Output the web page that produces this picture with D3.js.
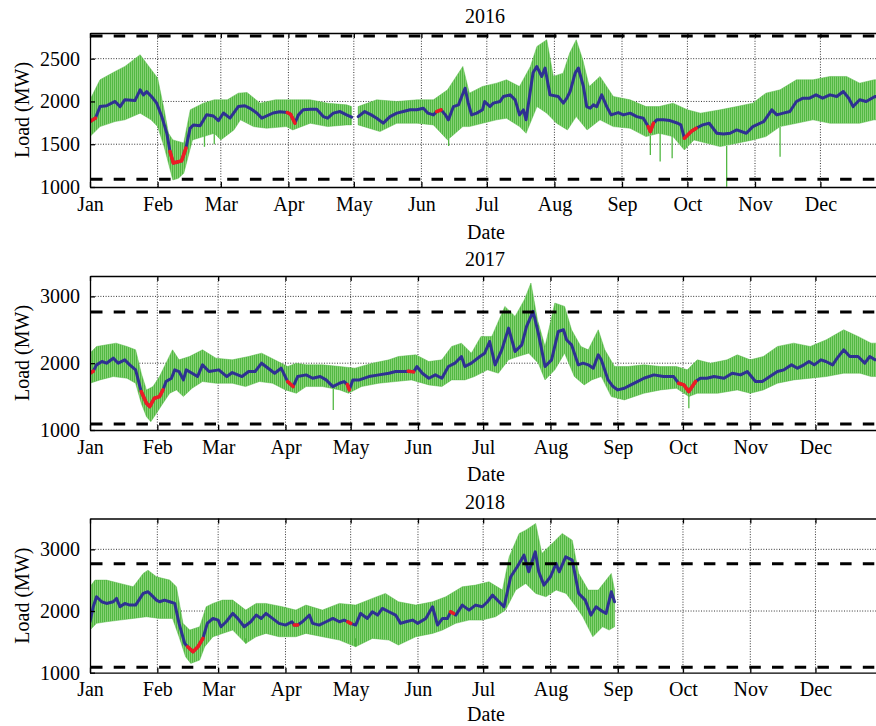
<!DOCTYPE html>
<html>
<head>
<meta charset="utf-8">
<script src="https://cdn.jsdelivr.net/npm/d3@7"></script>
<style>
  html, body { margin: 0; padding: 0; background: #fff; }
  svg { display: block; font-family: "Liberation Serif", "DejaVu Serif", serif; }
</style>
</head>
<body>
<svg id="chart" width="876" height="726"></svg>
<script>
// ---- Data: day-of-year (0 = Jan 1) and load in MW ----
const years = [2016, 2017, 2018];
const thresholds = [1090, 2765];
const monthTickLabel = d3.utcFormat("%b");

// Daily mean load [day, MW]; null marks missing data
const mean2016 = [[0,1765],[2.5,1805],[4.6,1940],[7.6,1950],[11.5,2000],[13.8,1940],[16,2020],[20.6,2010],[23,2135],[24.5,2075],[26,2115],[28.3,2055],[30.6,1980],[32.9,1825],[35.2,1630],[36.7,1415],[38.2,1280],[40.5,1295],[42,1305],[44,1455],[45.9,1685],[47.4,1725],[50.5,1715],[53.5,1845],[56.6,1830],[58.9,1775],[61.2,1865],[64.2,1805],[68,1940],[71,1950],[73.4,1920],[76.5,1865],[78.8,1805],[84,1865],[87,1880],[90.5,1870],[92,1850],[94,1746],[95.6,1843],[97.8,1902],[101,1910],[104,1910],[107,1823],[109,1804],[111.6,1863],[114.7,1882],[117.7,1843],[120,1816],[121.5,null],[123,1823],[126,1882],[129,1843],[131.5,1804],[134.5,1746],[137.6,1823],[140.7,1863],[143.7,1882],[146.8,1902],[149.9,1902],[152.9,1921],[155,1863],[157.5,1843],[159,1882],[161,1902],[163,1843],[164.4,1785],[166.7,1940],[169,1960],[170.5,2058],[172,2155],[173.5,1980],[175,1843],[177.4,1863],[180,1902],[181,1999],[183.5,1940],[185,1980],[188,1999],[189.6,2058],[192.7,2077],[195,2019],[197,1843],[198.8,1902],[200,1785],[203.2,2335],[204.9,2409],[207.2,2292],[208.7,2390],[211,2077],[214.8,2057],[217.1,1980],[218.7,2038],[220.2,2116],[222.5,2331],[224,2390],[226.3,2175],[227.8,1940],[229.4,1921],[230.9,1960],[232.4,1940],[234.7,2077],[237,1940],[239,1843],[242.3,1870],[244.6,1843],[247.7,1863],[250.8,1823],[253.8,1804],[256,1706],[257,1648],[258.4,1745],[260,1785],[263,1785],[266,1776],[269.6,1745],[271,1726],[272.6,1570],[275.7,1648],[278,1687],[281,1726],[284,1745],[287.5,1628],[290.5,1620],[293.6,1628],[296.6,1667],[301,1628],[304,1706],[309,1765],[312.7,1902],[315,1843],[318,1863],[321,1882],[324,1999],[327,2038],[330,2038],[333,2077],[336,2038],[339.4,2077],[342.5,2058],[345.5,2116],[348,2038],[350,1940],[353,2019],[356,1999],[360,2058],[365.5,2040]];
const mean2017 = [[0,1850],[1.5,1880],[3,1975],[5.5,2025],[7.6,2000],[10.7,2075],[13,2000],[16,2050],[18.3,1975],[21,1900],[23.6,1575],[26,1400],[27.5,1350],[29.6,1475],[32,1500],[33.6,1600],[35,1725],[37.5,1775],[39,1900],[41,1875],[43,1750],[44.3,1900],[47,1850],[49.5,1800],[51.8,1975],[54.8,1875],[59.3,1900],[63,1800],[65.5,1860],[70,1800],[73,1875],[76,1875],[79,2000],[82,1925],[85,1850],[88,1925],[91,1725],[93.5,1650],[95.6,1800],[99.5,1825],[102.5,1775],[106,1800],[108.7,1750],[111.8,1650],[114.8,1700],[117,1725],[118.5,1680],[119.4,1600],[121,1750],[124,1750],[128.4,1800],[133,1825],[137.6,1850],[140.7,1875],[145,1875],[146.5,1880],[149,1870],[150.5,1950],[153,1850],[156,1775],[159,1825],[162,1775],[165,1950],[168,2000],[171,2100],[172.6,1950],[175.6,2000],[179.5,2100],[181.7,2150],[184,2325],[186.5,1975],[189.6,2200],[192.7,2525],[195.7,2175],[198.8,2275],[201,2550],[204,2775],[206.4,2450],[209.5,1950],[212.5,2050],[215.6,2475],[218,2500],[219.4,2350],[221.7,2275],[224.8,1975],[227,2000],[229.4,1975],[231.7,1925],[234,2125],[235.4,2050],[238.5,1750],[240.8,1650],[243,1600],[246,1625],[249,1675],[252,1725],[255,1775],[259.6,1825],[264,1800],[268.7,1800],[271,1700],[273.4,1675],[275.7,1575],[278.8,1725],[281,1775],[284,1775],[287.3,1800],[291.9,1775],[295.7,1850],[299.5,1825],[302.6,1875],[306.4,1725],[309.5,1725],[313,1800],[316.5,1875],[319.5,1900],[323,1975],[325.7,1925],[328.7,1975],[331,2025],[333.4,1975],[336.5,2050],[338.8,2025],[341.9,1975],[344,2075],[347,2200],[349.8,2100],[353.6,2100],[356.7,2000],[359,2100],[361.4,2050],[365,2060]];
const mean2018 = [[0,1826],[1.5,2069],[3,2231],[5.4,2150],[7.6,2123],[10.7,2150],[12.2,2204],[13.8,2069],[16,2123],[18.3,2096],[21,2096],[24.5,2285],[26.7,2312],[28.3,2258],[30.6,2177],[32,2150],[34.3,2177],[36.7,2150],[39,2123],[41,1800],[43.6,1475],[45,1421],[47.4,1340],[49.7,1421],[52,1556],[54,1800],[56.6,1880],[59,1853],[60.3,1745],[62.7,1826],[65.7,1961],[68,1880],[71,1745],[74,1826],[76.5,1934],[78.8,1880],[81,1961],[84,1880],[87,1800],[90,1772],[93,1826],[94,1772],[95.6,1772],[97.8,1826],[101,1934],[102.5,1800],[105.5,1772],[108.7,1826],[111.8,1880],[114.8,1826],[117,1853],[118.7,1826],[120,1800],[122.3,1772],[124.6,1961],[127.7,1880],[130,1988],[132.4,1934],[134.6,2042],[137.6,1988],[140.7,1934],[143,1800],[145.4,1826],[148.5,1853],[150.8,1800],[154.6,1880],[157.7,2069],[160,1772],[162.3,1880],[164.6,1880],[166,1988],[167.4,1960],[168.4,1934],[171.4,2096],[174.5,2015],[177.5,2096],[180.6,2069],[183,2150],[185.3,2258],[188.3,2150],[190.6,2069],[193.7,2555],[196.7,2717],[199.8,2906],[202,2636],[205,2960],[206.6,2636],[209,2420],[212,2555],[214.6,2771],[216,2636],[219,2879],[222,2825],[225,2285],[228,2177],[230.6,1934],[233,2069],[235,2015],[237.6,1961],[240,2312],[241.5,2150]];

// Upper and lower envelope of the hourly load [day, MW]
const upper2016 = [[0,2019],[4.6,2253],[11.5,2350],[16,2409],[23,2546],[27,2409],[31,2273],[34,1902],[36,1628],[38,1550],[43,1515],[46,1902],[52,1980],[57,2019],[63,2019],[68,2097],[72,2105],[78,1980],[85,2019],[93,2019],[101,2019],[109,1980],[117.7,1960],[120,1940],[121.5,null],[123,1940],[131.5,2019],[140.7,1999],[150,2019],[157.5,2019],[164,2136],[171,2409],[174,2097],[180,2175],[186.5,2214],[191,2253],[197,2175],[202,2409],[205,2643],[209.5,2721],[212.5,2292],[217,2331],[220,2565],[223,2721],[226,2487],[229,2175],[233.9,2292],[240,2058],[247.7,2019],[255,1940],[261,1940],[267.4,1980],[274,1902],[280,1863],[289,1902],[296.6,1940],[304,1980],[310,2097],[316.5,2136],[324,2253],[331.6,2253],[339.4,2292],[347,2292],[353,2214],[359.6,2253],[366,2250]];
const lower2016 = [[0,1589],[4.6,1706],[11.5,1765],[16,1785],[23,1863],[28,1785],[31,1706],[34,1472],[36,1277],[38,1082],[40.5,1101],[43,1160],[47,1550],[52,1589],[57,1628],[60,1550],[66,1667],[69,1785],[75,1706],[81,1687],[90,1706],[93,1667],[101,1745],[109,1706],[117.7,1726],[120,1726],[121.5,null],[123,1726],[133,1648],[140.7,1745],[150,1745],[157.5,1726],[164,1550],[171,1706],[174,1706],[180,1745],[186.5,1785],[191,1804],[197,1706],[200,1628],[205,1940],[209.5,1863],[214,1745],[219,1667],[223,1823],[228,1667],[233.9,1785],[240,1706],[247.7,1687],[255,1589],[261,1628],[267.4,1589],[272.6,1433],[277,1550],[283,1511],[289,1472],[296.6,1511],[304,1550],[310,1589],[316.5,1706],[324,1745],[331.6,1785],[339.4,1745],[347,1745],[353,1745],[359.6,1785],[366,1780]];
const upper2017 = [[0,2150],[3,2250],[7.6,2275],[12,2300],[17,2250],[21,2200],[23.6,1850],[26,1600],[29,1650],[32,1800],[35,2000],[38,2200],[41,2050],[45.8,2100],[51.8,2200],[58,2075],[65.5,2050],[73,2100],[79,2150],[85,2050],[91,1950],[95,2000],[99.5,1975],[107,1975],[115,1950],[122,1925],[130,2000],[137.6,2050],[142,2100],[150,2125],[156,2025],[162,2050],[166.5,2250],[171,2300],[175.6,2150],[180,2400],[185,2400],[191,2850],[195.7,2700],[200,2950],[203,3200],[206,2650],[209.5,2250],[214,2900],[218.5,2850],[221.7,2500],[226,2250],[229.4,2200],[234,2500],[237,2200],[241.5,1950],[247.7,1950],[255,1975],[262.7,1950],[270,1950],[275,1900],[279.6,2050],[285.7,2000],[293.3,2050],[298,2125],[304,2050],[310,2100],[316.5,2250],[324,2300],[331.6,2250],[339,2350],[347,2500],[353.6,2400],[359.6,2300],[365,2300]];
const lower2017 = [[0,1700],[4.6,1750],[10.7,1800],[17,1775],[21,1700],[23.6,1400],[26,1200],[28,1125],[30.6,1250],[33.6,1400],[36.7,1550],[39.8,1600],[43,1500],[47,1625],[51.8,1725],[58,1700],[65.5,1700],[71.6,1650],[78,1725],[84,1700],[90,1600],[95,1550],[99.5,1650],[107,1650],[115,1600],[119,1550],[125,1650],[133,1700],[140.7,1725],[148,1750],[156,1675],[162,1650],[166.5,1750],[172.6,1750],[177,1800],[183,1900],[188,1850],[192.7,2050],[197,2100],[202,2150],[206.4,2000],[209.5,1750],[214,1900],[218.5,2150],[223,1800],[227.5,1675],[231,1750],[235.4,1800],[240,1500],[246,1450],[255,1550],[262.7,1600],[270,1625],[275.7,1500],[279.6,1550],[289,1550],[298,1600],[304,1550],[310,1600],[316.5,1700],[324,1750],[331.6,1775],[339,1800],[347,1850],[354.5,1850],[359.6,1800],[365,1800]];
const upper2018 = [[0,2393],[2.3,2501],[7.6,2501],[13.8,2447],[19.9,2393],[24.5,2609],[26.7,2663],[30.6,2555],[36.7,2501],[39.8,2393],[42.8,1800],[45.9,1691],[50.5,1745],[53.5,2069],[56.6,2123],[61,2177],[65.7,2177],[71.7,2015],[76.5,2123],[81,2123],[88.6,2069],[94.8,2015],[99.4,2096],[107,2015],[114.8,2123],[122.3,2096],[130,2204],[136,2285],[142,2150],[150,2096],[157.7,2150],[163.8,2231],[171.4,2393],[177.5,2420],[183.7,2474],[189.9,2339],[193,2879],[197.6,3257],[200.6,3311],[205.2,3419],[208,2933],[212.8,3095],[217.4,3257],[222,3149],[225,2609],[229.4,2339],[234,2339],[240,2609],[241.5,2339]];
const lower2018 = [[0,1691],[3,1800],[7.6,1826],[13.8,1853],[19.9,1880],[26,1907],[32,1880],[38,1880],[41,1583],[44,1259],[46.4,1151],[50.5,1205],[52.8,1421],[56.6,1583],[61,1637],[65.7,1691],[71.7,1475],[76.5,1583],[81,1637],[87,1583],[94.8,1583],[99.4,1637],[107,1583],[114.8,1529],[122.3,1421],[130,1556],[137.6,1529],[142,1448],[150,1583],[157.7,1637],[162.3,1691],[168.4,1800],[174.5,1853],[180.6,1853],[186.7,1907],[191.3,2015],[196,2339],[200.6,2447],[205.2,2285],[209.9,2231],[214.6,2339],[219.2,2285],[223.8,2069],[226.9,1907],[231.5,1583],[236,1745],[239,1691],[241.5,1745]];

// Isolated hourly dips below the band [day, low MW, high MW]
const spikes2016 = [[52.5,1470,1600],[57,1500,1640],[164.5,1480,1560],[257,1375,1600],[261.5,1297,1630],[267,1336,1600],[292,1004,1480],[316.5,1355,1700]];
const spikes2017 = [[112,1300,1620],[275.7,1325,1520]];
const spikes2018 = [[122.3,1421,1560],[71.7,1475,1560]];

// Holiday periods highlighted on the mean curve [from day, to day]
const red2016 = [[0,2.5],[36.5,44],[90.5,94.5],[159,161.5],[256,258.5],[272.5,278]];
const red2017 = [[0,1.5],[23.5,33.7],[90.5,94],[118.4,120],[146.4,149.1],[270.9,278.9]];
const red2018 = [[44.9,52.1],[93.5,95.7],[118.5,120.1],[165.9,167.5]];

// y-axis ticks per year
const yTicks2016 = [1000, 1500, 2000, 2500];
const yTicks2017 = [1000, 2000, 3000];
const yTicks2018 = [1000, 2000, 3000];

// ---- Layout ----
const panels = [
  { year: 2016, top: 33,    bottom: 187,   xr: [90, 888],   yMax: 2800, ticks: yTicks2016, dateGap: 52,
    mean: mean2016, upper: upper2016, lower: lower2016, spikes: spikes2016, red: red2016 },
  { year: 2017, top: 276,   bottom: 430,   xr: [90, 882.8], yMax: 3305, ticks: yTicks2017, dateGap: 51,
    mean: mean2017, upper: upper2017, lower: lower2017, spikes: spikes2017, red: red2017 },
  { year: 2018, top: 518.5, bottom: 672.7, xr: [90, 882.8], yMax: 3500, ticks: yTicks2018, dateGap: 48,
    mean: mean2018, upper: upper2018, lower: lower2018, spikes: spikes2018, red: red2018 }
];

const FONT = 20;
const GREEN_DARK = "#52b843", GREEN_LIGHT = "#86d174";
const BLUE = "#2e3192", RED = "#ec1c24";

const svg = d3.select("#chart");
const defs = svg.append("defs");

// vertical stripe texture of the hourly series
const pat = defs.append("pattern").attr("id", "hourly")
  .attr("patternUnits", "userSpaceOnUse").attr("width", 2).attr("height", 20);
pat.append("rect").attr("width", 2).attr("height", 20).attr("fill", GREEN_LIGHT);
pat.append("rect").attr("width", 1).attr("height", 20).attr("fill", GREEN_DARK);

// split a series into runs separated by null values
function runs(arr) {
  const out = []; let cur = [];
  arr.forEach(d => {
    if (d[1] == null) { if (cur.length) out.push(cur); cur = []; }
    else cur.push(d);
  });
  if (cur.length) out.push(cur);
  return out;
}

panels.forEach((p, i) => {
  const t0 = Date.UTC(p.year, 0, 1), t1 = Date.UTC(p.year + 1, 0, 1);
  const x = d3.scaleUtc().domain([t0, t1]).range(p.xr);
  const xd = d => x(new Date(t0 + d * 864e5));
  const y = d3.scaleLinear().domain([1000, p.yMax]).range([p.bottom, p.top]);
  const months = d3.utcMonth.range(new Date(t0), new Date(t1));

  const clipId = "plot-clip-" + i;
  defs.append("clipPath").attr("id", clipId).append("rect")
    .attr("x", p.xr[0]).attr("y", p.top)
    .attr("width", p.xr[1] - p.xr[0]).attr("height", p.bottom - p.top);

  const g = svg.append("g");
  const plot = g.append("g").attr("clip-path", `url(#${clipId})`);

  // dotted grid
  plot.append("g").selectAll("line").data(months.slice(1)).join("line")
    .attr("x1", d => x(d)).attr("x2", d => x(d))
    .attr("y1", p.top).attr("y2", p.bottom)
    .attr("stroke", "#000").attr("stroke-width", 0.8).attr("stroke-dasharray", "1,1.6");
  plot.append("g").selectAll("line").data(p.ticks.filter(t => t > 1000)).join("line")
    .attr("x1", p.xr[0]).attr("x2", p.xr[1])
    .attr("y1", d => y(d)).attr("y2", d => y(d))
    .attr("stroke", "#000").attr("stroke-width", 0.8).attr("stroke-dasharray", "1,1.6");

  // hourly band between envelopes
  const up = runs(p.upper), lo = runs(p.lower);
  const poly = d3.line().x(d => xd(d[0])).y(d => y(d[1]));
  up.forEach((u, k) => {
    const pts = u.concat(lo[k].slice().reverse());
    plot.append("path").attr("d", poly(pts) + "Z")
      .attr("fill", "url(#hourly)")
      .attr("stroke", GREEN_DARK).attr("stroke-width", 0.6).attr("stroke-opacity", 0.8)
      .attr("stroke-linejoin", "round");
  });

  // single-hour dips
  plot.append("g").selectAll("line").data(p.spikes).join("line")
    .attr("x1", d => xd(d[0])).attr("x2", d => xd(d[0]))
    .attr("y1", d => y(d[1])).attr("y2", d => y(d[2]))
    .attr("stroke", GREEN_DARK).attr("stroke-width", 1.3);

  // daily mean
  const meanLine = d3.line().defined(d => d[1] != null).x(d => xd(d[0])).y(d => y(d[1]));
  plot.append("path").attr("d", meanLine(p.mean))
    .attr("fill", "none").attr("stroke", BLUE).attr("stroke-width", 3)
    .attr("stroke-linejoin", "round").attr("stroke-linecap", "round");

  // holiday portions of the mean in red
  const inRed = day => p.red.some(r => day >= r[0] && day <= r[1]);
  const redLine = d3.line().defined(d => d[1] != null && inRed(d[0])).x(d => xd(d[0])).y(d => y(d[1]));
  plot.append("path").attr("d", redLine(p.mean))
    .attr("fill", "none").attr("stroke", RED).attr("stroke-width", 3.5)
    .attr("stroke-linejoin", "round").attr("stroke-linecap", "round");

  // load limits
  plot.append("g").selectAll("line").data(thresholds).join("line")
    .attr("x1", p.xr[0] + 1).attr("x2", p.xr[1])
    .attr("y1", d => y(d)).attr("y2", d => y(d))
    .attr("stroke", "#000").attr("stroke-width", 3).attr("stroke-dasharray", "11.5,11.2");

  // axes with inward ticks
  const styleAxis = sel => {
    sel.attr("font-family", null).attr("font-size", null);
    sel.selectAll("path.domain").attr("stroke", "#000").attr("stroke-width", 1.3);
    sel.selectAll(".tick line").attr("stroke", "#000").attr("stroke-width", 1.3);
    sel.selectAll("text").attr("fill", "#000").style("font-size", FONT + "px")
      .style("font-family", '"Liberation Serif", "DejaVu Serif", serif');
  };
  g.append("g").attr("transform", `translate(0,${p.bottom})`)
    .call(d3.axisBottom(x).tickValues(months).tickFormat(monthTickLabel)
      .tickSizeInner(-5).tickSizeOuter(0).tickPadding(9.5))
    .call(styleAxis);
  g.append("g").attr("transform", `translate(0,${p.top})`)
    .call(d3.axisTop(x).tickValues(months).tickFormat("")
      .tickSizeInner(-5).tickSizeOuter(0))
    .call(styleAxis);
  g.append("g").attr("transform", `translate(${p.xr[0]},0)`)
    .call(d3.axisLeft(y).tickValues(p.ticks).tickFormat(d3.format("d"))
      .tickSizeInner(-5).tickSizeOuter(0).tickPadding(10))
    .call(styleAxis);

  // titles
  g.append("text").attr("x", 485).attr("y", p.top - 10)
    .attr("text-anchor", "middle").style("font-size", FONT + "px").text(String(p.year));
  g.append("text").attr("x", 486).attr("y", p.bottom + p.dateGap)
    .attr("text-anchor", "middle").style("font-size", FONT + "px").text("Date");
  g.append("text")
    .attr("transform", `translate(29,${(p.top + p.bottom) / 2}) rotate(-90)`)
    .attr("text-anchor", "middle").style("font-size", FONT + "px").text("Load (MW)");
});
</script>
</body>
</html>
